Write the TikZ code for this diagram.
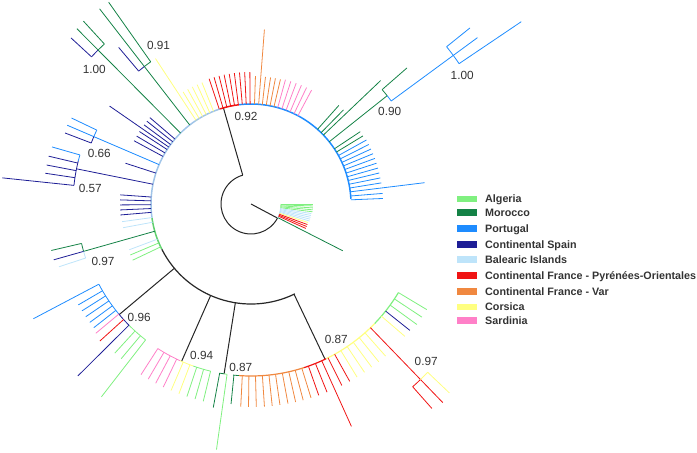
\documentclass[tikz,border=0pt]{standalone}
\usepackage{fontspec}
\setmainfont{Liberation Sans}
\definecolor{algeria}{RGB}{128,240,128}
\definecolor{morocco}{RGB}{20,130,70}
\definecolor{portugal}{RGB}{30,140,255}
\definecolor{spain}{RGB}{30,30,150}
\definecolor{balearic}{RGB}{190,228,250}
\definecolor{balrim}{RGB}{160,196,232}
\definecolor{pyrenees}{RGB}{240,20,20}
\definecolor{varfr}{RGB}{240,136,64}
\definecolor{corsica}{RGB}{255,255,128}
\definecolor{sardinia}{RGB}{255,128,200}
\begin{document}
\begin{tikzpicture}[x=1pt,y=1pt,
	tip/.style={line width=0.8pt},
	rim/.style={line width=1.5pt},
	stem/.style={line width=1pt,black!85},
	supp/.style={font=\fontsize{11.8}{13}\selectfont,text=black!80,inner sep=0pt},
	key/.style={minimum width=19.4pt,minimum height=6.5pt,inner sep=0pt},
	keytext/.style={font=\bfseries\fontsize{10.75}{12}\selectfont,text=black!80,anchor=base west,inner sep=0pt}]
	\useasboundingbox (-251,-249) rectangle (446,204);
	% root
	\draw[stem] (0,0) -- (-28:30);
	\draw[stem] (-28:30) arc[start angle=332,end angle=106,radius=30];
	\draw[stem] (106:30) -- (106:100);
	\draw[tip,balearic] (-28:30) arc[start angle=-28,end angle=-8,radius=30];
	\draw[tip,algeria] (-8:30) arc[start angle=-8,end angle=0,radius=30];
	\foreach \a in {0,-1.8,-3.6,-5.4,-7.2} \draw[tip,algeria] (\a:30) -- (\a:62);
	\foreach \a in {-9,-10.8,-12.6,-14.4,-16.2} \draw[tip,balearic] (\a:30) -- (\a:61);
	\draw[tip,corsica] (-18:30) -- (-18:60);
	\foreach \a in {-20,-22,-24} \draw[tip,pyrenees] (\a:30) -- (\a:60);
	\draw[tip,morocco] (-27:30) -- (-27:103);
	% main rim
	\draw[rim,portugal] (3:100) arc[start angle=3,end angle=97,radius=100];
	\draw[rim,pyrenees] (97:100) arc[start angle=97,end angle=108,radius=100];
	\draw[rim,balrim] (108:100) arc[start angle=108,end angle=188,radius=100];
	\draw[rim,algeria!70!morocco] (188:100) arc[start angle=188,end angle=207,radius=100];
	\draw[rim,black!85,line width=1.2pt] (207:100) arc[start angle=207,end angle=296,radius=100];
	% top
	\foreach \a in {121.2,118.9,116.6,114.3,112} \draw[tip,corsica] (\a:100) -- (\a:131);
	\draw[tip,corsica] (123.3:100) -- (123.3:174);
	\foreach \a in {108.5,106.25,104,101.75,99.5,97.25,95,92.75,90.5} \draw[tip,pyrenees] (\a:100) -- (\a:132);
	\foreach \a in {88,83.5,81.2,79,76.7} \draw[tip,varfr] (\a:100) -- (\a:128);
	\draw[tip,varfr] (85.6:100) -- (85.6:175);
	\foreach \a in {74.5,72,69.5,67,64.5,62} \draw[tip,sardinia] (\a:100) -- (\a:129);
	% right
	\foreach \a in {48.3,45.5} \draw[tip,morocco] (\a:100) -- (\a:132);
	\draw[tip,morocco] (43.6:100) -- (43.6:179);
	\draw[tip,morocco] (38.5:100) -- (38.5:174);
	\draw[tip,morocco] (41.1:174) arc[start angle=41.1,end angle=38.5,radius=174];
	\draw[tip,portugal] (38.5:174) arc[start angle=38.5,end angle=36.3,radius=174];
	\draw[tip,morocco] (41.1:174) -- (41.1:207);
	\draw[tip,portugal] (36.3:174) -- (36.3:281);
	\draw[tip,portugal] (34:251) arc[start angle=34,end angle=38.8,radius=251];
	\draw[tip,portugal] (34:251) -- (34:326);
	\draw[tip,portugal] (38.8:251) -- (38.8:281);
	\foreach \a in {33.5,31.3} \draw[tip,morocco] (\a:100) -- (\a:131);
	\foreach \a in {29,26.8,24.6,22.4,20.2,18,15.8,13.6,11.4,9.2,4.6,2.4} \draw[tip,portugal] (\a:100) -- (\a:132);
	\draw[tip,portugal] (7:100) -- (7:175);
	% left
	\draw[tip,morocco] (127.8:100) -- (127.8:247);
	\draw[tip,morocco] (125.2:174) arc[start angle=125.2,end angle=127.8,radius=174];
	\draw[tip,spain] (127.8:174) arc[start angle=127.8,end angle=130.2,radius=174];
	\draw[tip,morocco] (125.2:174) -- (125.2:247);
	\draw[tip,spain] (130.2:174) -- (130.2:205);
	\draw[tip,morocco] (134.8:100) -- (134.8:247);
	\draw[tip,morocco] (132.5:217) arc[start angle=132.5,end angle=134.8,radius=217];
	\draw[tip,spain] (134.8:217) arc[start angle=134.8,end angle=137.3,radius=217];
	\draw[tip,morocco] (132.5:217) -- (132.5:248);
	\draw[tip,spain] (137.3:217) -- (137.3:245);
	\foreach \a in {139.5,141.5,143.5,147,149.3,151.6} \draw[tip,spain] (\a:100) -- (\a:133);
	\draw[tip,spain] (145.3:100) -- (145.3:172);
	\draw[tip,portugal] (156.8:100) -- (156.8:200);
	\draw[tip,portugal] (154.4:171) arc[start angle=154.4,end angle=156.8,radius=171];
	\draw[tip,spain] (156.8:171) arc[start angle=156.8,end angle=159.1,radius=171];
	\draw[tip,portugal] (154.4:171) -- (154.4:199);
	\draw[tip,spain] (159.1:171) -- (159.1:199);
	\draw[tip,spain] (162:100) -- (162:132);
	\draw[tip,spain] (168.6:100) -- (168.6:178);
	\draw[tip,portugal] (164:178) arc[start angle=164,end angle=166,radius=178];
	\draw[tip,spain] (166:178) arc[start angle=166,end angle=174,radius=178];
	\draw[tip,portugal] (164:178) -- (164:207);
	\foreach \a in {166.7,169.2,171.5} \draw[tip,spain] (\a:178) -- (\a:208);
	\draw[tip,spain] (174:178) -- (174:250);
	\foreach \a in {176,178.2,180.4,182.6,184.8} \draw[tip,spain] (\a:100) -- (\a:131);
	\foreach \a in {187.8,190.5,200.6} \draw[tip,balearic] (\a:100) -- (\a:130);
	\draw[tip,morocco] (195.8:100) -- (195.8:174);
	\draw[tip,morocco] (193.1:174) arc[start angle=193.1,end angle=195.8,radius=174];
	\draw[tip,balearic] (195.8:174) arc[start angle=195.8,end angle=198.1,radius=174];
	\draw[tip,morocco] (193.1:174) -- (193.1:205);
	\draw[tip,spain] (195.8:174) -- (195.8:205);
	\draw[tip,balearic] (198.1:174) -- (198.1:202);
	\foreach \a in {202.9,205.4} \draw[tip,algeria] (\a:100) -- (\a:131);
	% lower left
	\draw[stem] (220:100) -- (220:172);
	\draw[tip,portugal] (207.8:172) arc[start angle=207.8,end angle=219.6,radius=172];
	\draw[tip,spain] (219.6:172) arc[start angle=219.6,end angle=225,radius=172];
	\draw[tip,algeria] (225:172) arc[start angle=225,end angle=232.2,radius=172];
	\draw[tip,portugal] (207.8:172) -- (207.8:246);
	\foreach \a in {210.3,212.3,214.3,216.3,218.2} \draw[tip,portugal] (\a:172) -- (\a:200);
	\draw[tip,sardinia] (219.8:172) -- (219.8:202);
	\draw[tip,pyrenees] (222.2:172) -- (222.2:204);
	\draw[tip,spain] (224.8:172) -- (224.8:244);
	\foreach \a in {227.6,230} \draw[tip,algeria] (\a:172) -- (\a:202);
	\draw[tip,algeria] (232.2:172) -- (232.2:244);
	\draw[stem] (246.2:100) -- (246.2:172);
	\draw[tip,sardinia] (237.2:172) arc[start angle=237.2,end angle=245.6,radius=172];
	\draw[tip,corsica] (245.6:172) arc[start angle=245.6,end angle=250.4,radius=172];
	\draw[tip,algeria] (250.4:172) arc[start angle=250.4,end angle=256.4,radius=172];
	\foreach \a in {237.2,239.6,242,244.4} \draw[tip,sardinia] (\a:172) -- (\a:203);
	\foreach \a in {246.8,249.2} \draw[tip,corsica] (\a:172) -- (\a:203);
	\foreach \a in {251.6,254,256.4} \draw[tip,algeria] (\a:172) -- (\a:203);
	% bottom
	\draw[stem] (261:100) -- (261:172);
	\draw[tip,morocco] (259.5:172) arc[start angle=259.5,end angle=261,radius=172];
	\draw[tip,algeria] (261:172) arc[start angle=261,end angle=262,radius=172];
	\draw[tip,morocco] (259.5:172) -- (259.5:207);
	\draw[tip,algeria] (262:172) -- (262:248);
	\draw[stem] (295.5:100) -- (295.5:172);
	\draw[tip,morocco] (264:172) arc[start angle=264,end angle=266,radius=172];
	\draw[rim,varfr,line width=1.2pt] (266:172) arc[start angle=266,end angle=288,radius=172];
	\draw[rim,pyrenees,line width=1.2pt] (288:172) arc[start angle=288,end angle=296,radius=172];
	\draw[rim,corsica,line width=1.2pt] (296:172) arc[start angle=296,end angle=316,radius=172];
	\draw[rim,algeria,line width=1.2pt] (316:172) arc[start angle=316,end angle=329,radius=172];
	\draw[tip,morocco] (264.3:172) -- (264.3:201);
	\foreach \a in {267.1,269.3,271.5,273.8,276,278.2,280.5,282.7,284.9,287.2} \draw[tip,varfr] (\a:172) -- (\a:203);
	\foreach \a in {289.5,292,296.6,299.1} \draw[tip,pyrenees] (\a:172) -- (\a:203);
	\draw[tip,pyrenees] (294.3:172) -- (294.3:244);
	\foreach \a in {301.5,304,306.5,309,311.5,319.3} \draw[tip,corsica] (\a:172) -- (\a:203);
	% lower right
	\draw[tip,pyrenees] (314:172) -- (314:276);
	\draw[tip,pyrenees] (311.5:244) arc[start angle=311.5,end angle=314,radius=244];
	\draw[tip,corsica] (314:244) arc[start angle=314,end angle=316.4,radius=244];
	\draw[tip,pyrenees] (311.5:244) -- (311.5:273);
	\draw[tip,corsica] (316.4:244) -- (316.4:274);
	\draw[tip,spain] (321.5:172) -- (321.5:203);
	\foreach \a in {324,326.5,329} \draw[tip,algeria] (\a:172) -- (\a:205);
	% support values
	\node[supp] (s092) at (-5,88) {0.92};
	\node[supp] (s091) at (-92.5,158.7) {0.91};
	\node[supp] (s100a) at (-156.7,134.8) {1.00};
	\node[supp] (s066) at (-151.7,50.2) {0.66};
	\node[supp] (s057) at (-160.7,16) {0.57};
	\node[supp] (s097a) at (-148,-57.2) {0.97};
	\node[supp] (s096) at (-111.8,-113.8) {0.96};
	\node[supp] (s094) at (-49.3,-151) {0.94};
	\node[supp] (s087a) at (-10.2,-163.2) {0.87};
	\node[supp] (s087b) at (85.3,-135) {0.87};
	\node[supp] (s097b) at (175.2,-157) {0.97};
	\node[supp] (s090) at (138.7,92.3) {0.90};
	\node[supp] (s100b) at (211.2,128.2) {1.00};
	% legend
	\foreach \n/\c/\t/\y in {alg/algeria/Algeria/5,mor/morocco/Morocco/-8.7,por/portugal/Portugal/-24.5,spa/spain/Continental Spain/-40.5,bal/balearic/Balearic Islands/-55.7,pyr/pyrenees/Continental France - Pyrénées-Orientales/-71.5,var/varfr/Continental France - Var/-87.3,cor/corsica/Corsica/-103,sar/sardinia/Sardinia/-116.7} {
		\node[key,fill=\c] (k\n) at (216,\y) {};
		\node[keytext] (t\n) at (234,\y-3.8) {\t};
	}
\end{tikzpicture}
\end{document}
